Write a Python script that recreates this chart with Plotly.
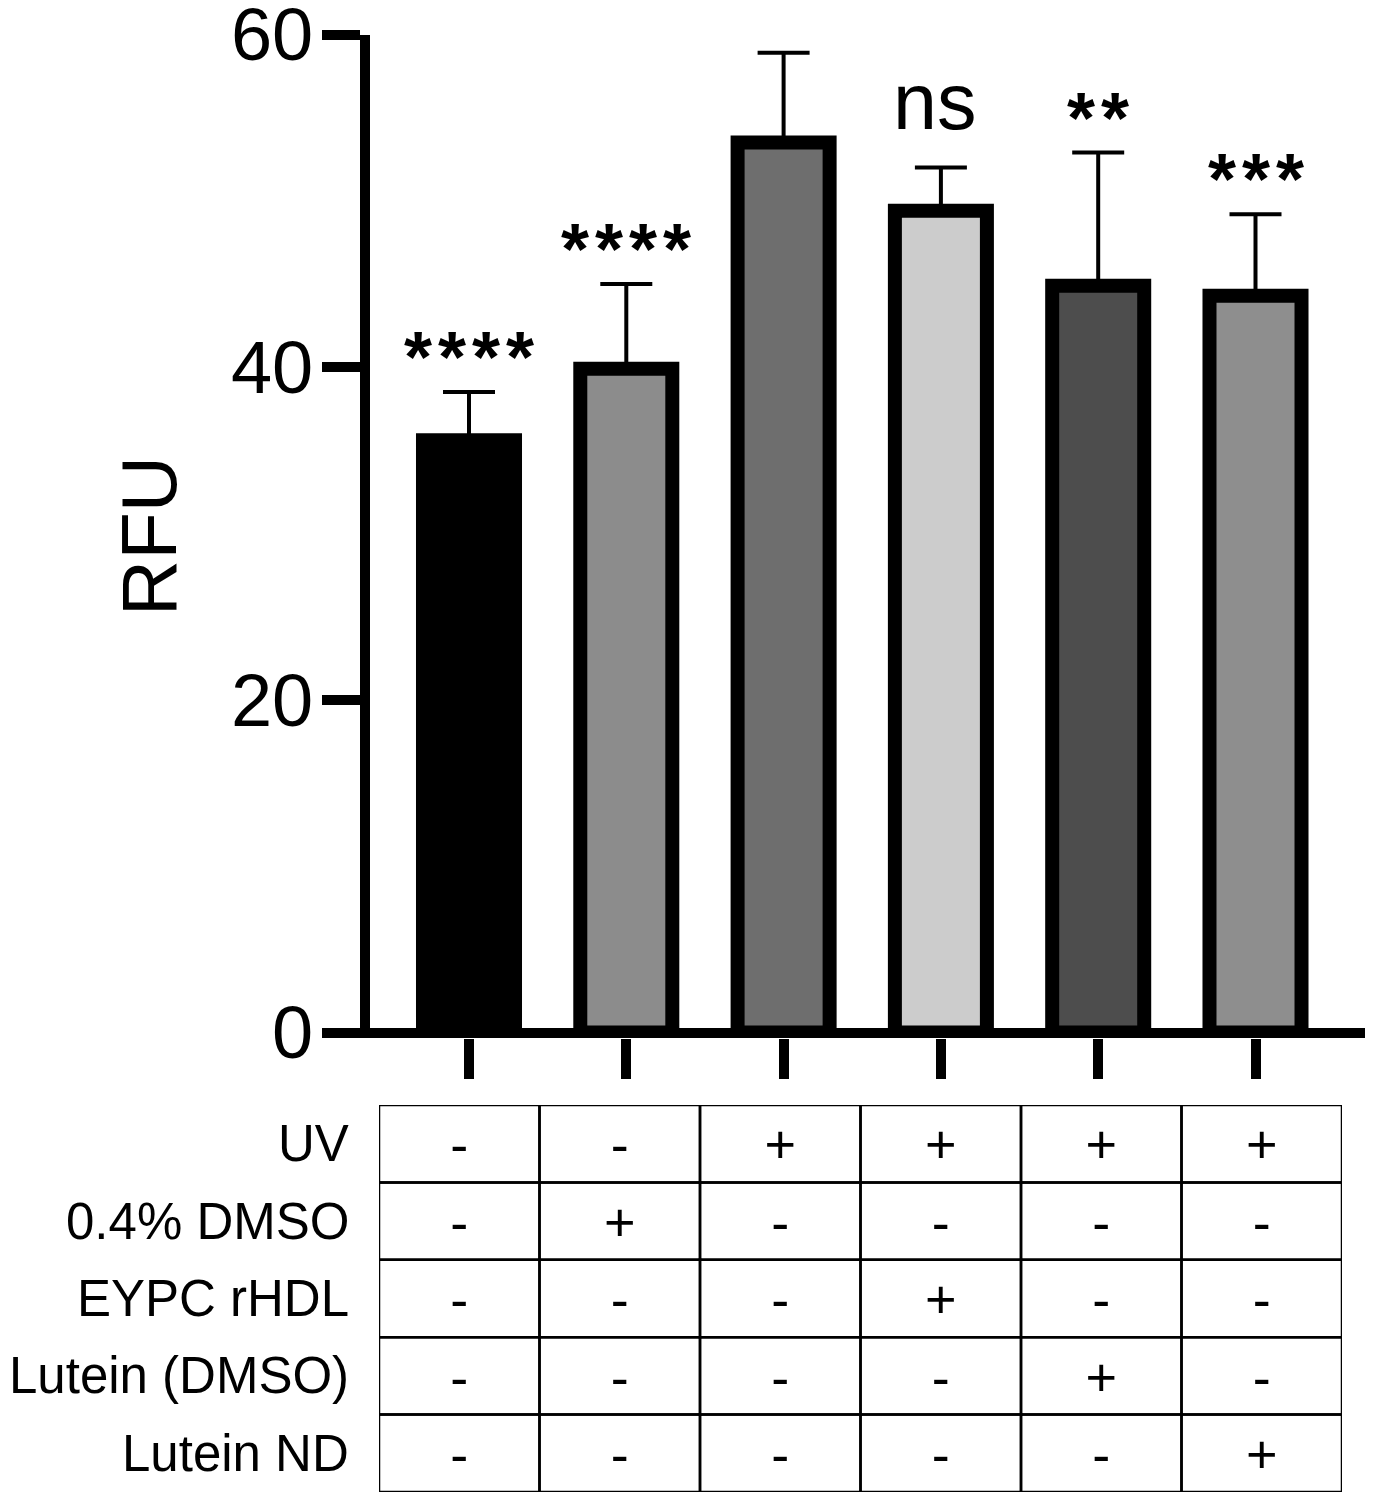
import plotly.graph_objects as go

# ---------------- data ----------------
groups = ["G1", "G2", "G3", "G4", "G5", "G6"]
rfu_mean = [35.6, 39.9, 53.5, 49.4, 44.9, 44.3]
rfu_err = [2.9, 5.1, 5.4, 2.6, 8.0, 4.9]
bar_colors = ["#000000", "#8c8c8c", "#6e6e6e", "#cccccc", "#4d4d4d", "#8e8e8e"]
significance = ["****", "****", "", "ns", "**", "***"]
y_ticks = [0, 20, 40, 60]

row_labels = ["UV", "0.4% DMSO", "EYPC rHDL", "Lutein (DMSO)", "Lutein ND"]
treatment = [
    ["-", "-", "+", "+", "+", "+"],
    ["-", "+", "-", "-", "-", "-"],
    ["-", "-", "-", "+", "-", "-"],
    ["-", "-", "-", "-", "+", "-"],
    ["-", "-", "-", "-", "-", "+"],
]

FONT = "Liberation Sans, Arial, sans-serif"
W, H = 1357, 1484     # page body margin of 8px on each side
OFF = 8


def fx(px):  # screen x pixel -> paper fraction
    return min(1.0, max(0.0, (px - OFF) / W))


def fy(py):  # screen y pixel -> paper fraction
    return min(1.0, max(0.0, 1 - (py - OFF) / H))


xpos = list(range(len(groups)))

fig = go.Figure()

fig.add_trace(go.Bar(
    x=xpos, y=rfu_mean, width=0.585,
    marker=dict(color=bar_colors, line=dict(color="black", width=14)),
    error_y=dict(type="data", array=rfu_err, arrayminus=[0] * len(rfu_err),
                 symmetric=False, color="black", thickness=4, width=26),
    showlegend=False, hoverinfo="skip",
    xaxis="x", yaxis="y",
))

# significance labels
for i, s in enumerate(significance):
    if not s:
        continue
    if s == "ns":
        txt, size, shift, xs = "ns", 79, 20, -6
    else:
        txt, size, shift, xs = "<b>" + "\u200a".join(list(s)) + "</b>", 72, -7, 0
    fig.add_annotation(
        x=xpos[i], y=rfu_mean[i] + rfu_err[i], xref="x", yref="y",
        text=txt, showarrow=False, yanchor="bottom", xanchor="center",
        yshift=shift, xshift=xs, font=dict(family=FONT, size=size, color="black"),
    )

# ---------------- treatment table ----------------
n_rows, n_cols = len(row_labels), len(groups)
tx, ty, tt = [], [], []
for r in range(n_rows):
    for c in range(n_cols):
        tx.append(c + 0.5)
        ty.append(r + 0.58)
        tt.append(treatment[r][c])
        fig.add_shape(type="rect", xref="x2", yref="y2", x0=c, x1=c + 1, y0=r, y1=r + 1,
                      line=dict(color="black", width=2.5), fillcolor="rgba(0,0,0,0)")
    fig.add_annotation(x=0, y=r + 0.5, xref="x2", yref="y2", text=row_labels[r],
                       showarrow=False, xanchor="right", yanchor="middle", xshift=-28,
                       font=dict(family=FONT, size=51, color="black"))

fig.add_trace(go.Scatter(
    x=tx, y=ty, mode="text", text=tt, textposition="middle center",
    textfont=dict(family=FONT, size=54, color="black"),
    xaxis="x2", yaxis="y2", showlegend=False, hoverinfo="skip",
))

fig.update_layout(
    width=W, height=H,
    margin=dict(l=0, r=0, t=0, b=0, autoexpand=False),
    paper_bgcolor="white", plot_bgcolor="white",
    font=dict(family=FONT, color="black"),
    xaxis=dict(
        domain=[fx(370), fx(1369)], range=[-0.6294, 5.6961],
        tickmode="array", tickvals=xpos, showticklabels=False,
        ticks="outside", ticklen=40, tickwidth=10, tickcolor="black",
        showline=False, showgrid=False, zeroline=False, fixedrange=True,
        automargin=False,
    ),
    yaxis=dict(
        domain=[fy(1037.5), fy(34.5)], range=[-0.3006, 60],
        tickmode="array", tickvals=y_ticks, ticktext=[str(v) for v in y_ticks],
        ticks="outside", ticklen=38, tickwidth=10, tickcolor="black",
        tickfont=dict(family=FONT, size=74, color="black"),
        ticklabeloverflow="allow", ticklabelstandoff=-6,
        showline=True, linewidth=10, linecolor="black",
        showgrid=False, zeroline=True, zerolinewidth=10, zerolinecolor="black",
        title=dict(text="RFU", font=dict(family=FONT, size=78, color="black"), standoff=33),
        fixedrange=True, automargin=False,
    ),
    xaxis2=dict(
        domain=[fx(379), fx(1342)], range=[0, n_cols], anchor="y2",
        visible=False, fixedrange=True, automargin=False,
    ),
    yaxis2=dict(
        domain=[fy(1494), fy(1105)], range=[n_rows, 0], anchor="x2",
        visible=False, fixedrange=True, automargin=False,
    ),
)

fig.write_html("out.html")
